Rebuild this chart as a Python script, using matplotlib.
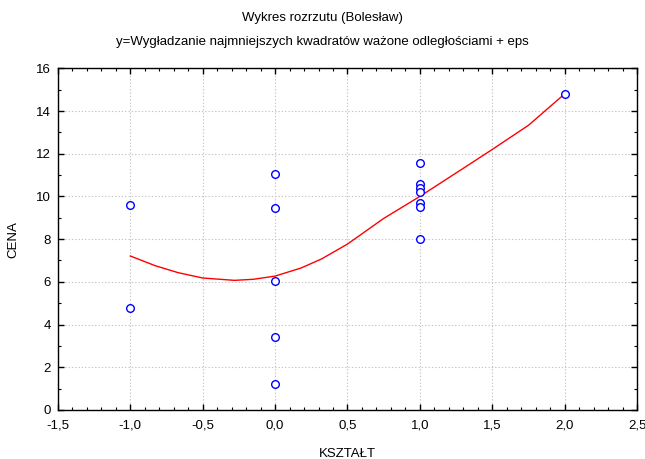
import numpy as np
import matplotlib
matplotlib.use("Agg")
import matplotlib.pyplot as plt
from matplotlib.ticker import MultipleLocator, FuncFormatter

plt.rcParams['font.family'] = ['Liberation Sans', 'DejaVu Sans']

# Dane punktowe (KSZTAŁT, CENA)
ksztalt = [-1, -1, 0, 0, 0, 0, 0, 1, 1, 1, 1, 1, 1, 1, 2]
cena = [9.61, 4.79, 11.06, 9.45, 6.04, 3.43, 1.22,
        11.56, 10.57, 10.4, 10.2, 9.68, 9.5, 8.0, 14.8]

# Krzywa wygładzania
krzywa_x = [-1.0, -0.83, -0.67, -0.5, -0.28, -0.15, 0.0, 0.18, 0.32,
            0.5, 0.75, 1.0, 1.15, 1.31, 1.5, 1.75, 2.0]
krzywa_y = [7.21, 6.76, 6.43, 6.18, 6.07, 6.12, 6.27, 6.65, 7.07,
            7.77, 8.97, 10.0, 10.66, 11.36, 12.2, 13.33, 14.8]

fig = plt.figure(figsize=(6.45, 4.59), dpi=100)
ax = fig.add_axes([0.0899, 0.1068, 0.8977, 0.7444])

ax.plot(krzywa_x, krzywa_y, color='red', linewidth=1.0, zorder=2)
ax.plot(ksztalt, cena, linestyle='none', marker='o', markersize=5.5,
        markerfacecolor='white', markeredgecolor='blue', markeredgewidth=1.0, zorder=3)

ax.set_xlim(-1.5, 2.5)
ax.set_ylim(0, 16)
ax.xaxis.set_major_locator(MultipleLocator(0.5))
ax.xaxis.set_minor_locator(MultipleLocator(0.1))
ax.yaxis.set_major_locator(MultipleLocator(2))
ax.yaxis.set_minor_locator(MultipleLocator(1))
ax.xaxis.set_major_formatter(FuncFormatter(lambda v, p: f"{v:.1f}".replace('.', ',').replace('-0,0', '0,0')))
ax.yaxis.set_major_formatter(FuncFormatter(lambda v, p: f"{v:.0f}"))

ax.tick_params(which='both', direction='in', top=True, right=True, labelsize=9.5, colors='black')
ax.tick_params(which='major', length=4, width=1)
ax.tick_params(which='minor', length=2.5, width=0.8)
ax.tick_params(axis='x', pad=7)
ax.tick_params(axis='y', pad=5)

ax.grid(True, which='major', color='#c4c4c4', linestyle=(0, (1.2, 1.8)), linewidth=0.8, zorder=0)
for s in ax.spines.values():
    s.set_linewidth(1.0)
    s.set_color('black')

ax.set_xlabel('KSZTAŁT', fontsize=9.5, labelpad=12)
ax.set_ylabel('CENA', fontsize=9.5, labelpad=12)

fig.text(0.5, 1 - 18 / 459, 'Wykres rozrzutu (Bolesław)', ha='center', va='center', fontsize=9.5)
fig.text(0.5, 1 - 42 / 459, 'y=Wygładzanie najmniejszych kwadratów ważone odległościami + eps',
         ha='center', va='center', fontsize=9.5)

fig.savefig('out.png', dpi=100)
